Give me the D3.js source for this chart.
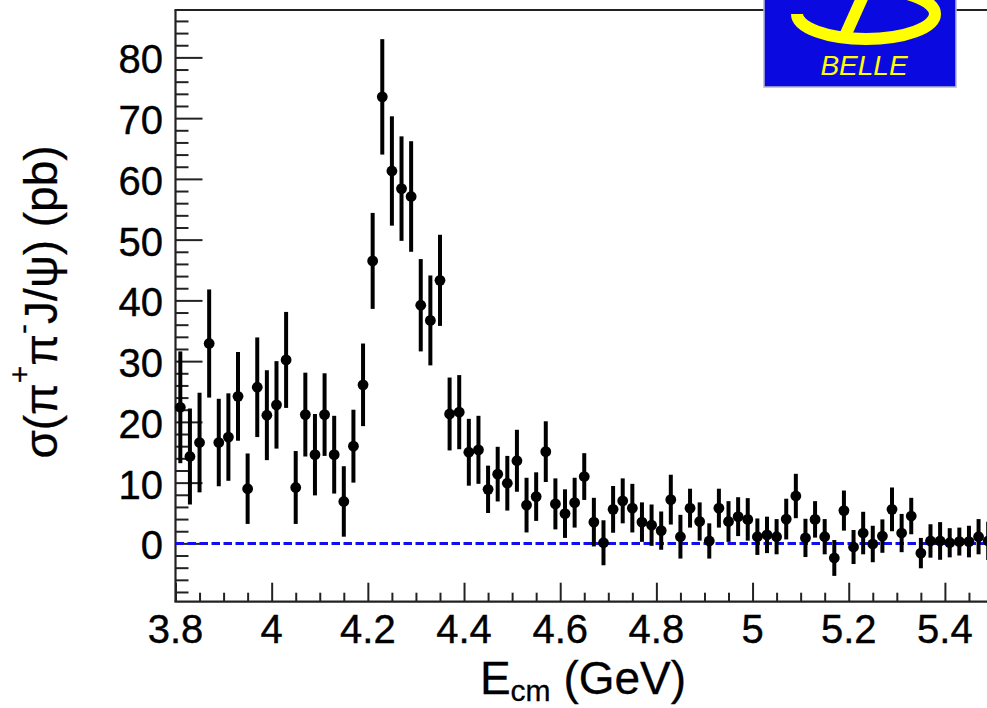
<!DOCTYPE html>
<html>
<head>
<meta charset="utf-8">
<script src="https://cdn.jsdelivr.net/npm/d3@7"></script>
<style>
  html, body { margin: 0; padding: 0; background: #ffffff; overflow: hidden; }
  svg { display: block; }
  text { font-family: "Liberation Sans", Arial, Helvetica, sans-serif; }
</style>
</head>
<body>
<div id="chart"></div>
<script>
// Centre-of-mass energy bins (GeV)
const energy = [
  3.81, 3.83, 3.85, 3.87, 3.89, 3.91, 3.93, 3.95, 3.97, 3.99,
  4.01, 4.03, 4.05, 4.07, 4.09, 4.11, 4.13, 4.15, 4.17, 4.19,
  4.21, 4.23, 4.25, 4.27, 4.29, 4.31, 4.33, 4.35, 4.37, 4.39,
  4.41, 4.43, 4.45, 4.47, 4.49, 4.51, 4.53, 4.55, 4.57, 4.59,
  4.61, 4.63, 4.65, 4.67, 4.69, 4.71, 4.73, 4.75, 4.77, 4.79,
  4.81, 4.83, 4.85, 4.87, 4.89, 4.91, 4.93, 4.95, 4.97, 4.99,
  5.01, 5.03, 5.05, 5.07, 5.09, 5.11, 5.13, 5.15, 5.17, 5.19,
  5.21, 5.23, 5.25, 5.27, 5.29, 5.31, 5.33, 5.35, 5.37, 5.39,
  5.41, 5.43, 5.45, 5.47, 5.49
];

// Measured cross section sigma(pi+ pi- J/psi) in pb
const sigma = [
  22.4, 14.3, 16.6, 32.9, 16.6, 17.5, 24.2, 9.0, 25.7, 21.1,
  22.8, 30.2, 9.2, 21.2, 14.6, 21.2, 14.6, 6.9, 16.0, 26.1,
  46.5, 73.5, 61.3, 58.4, 57.1, 39.2, 36.7, 43.3, 21.3, 21.6,
  15.0, 15.4, 8.9, 11.4, 9.9, 13.6, 6.3, 7.7, 15.1, 6.5,
  4.9, 6.7, 11.0, 3.5, 0.1, 5.6, 7.0, 5.8, 3.5, 3.0,
  2.1, 7.2, 1.1, 5.8, 3.6, 0.4, 5.8, 3.6, 4.4, 3.95,
  1.1, 1.4, 1.1, 4.0, 7.8, 0.9, 3.95, 1.1, -2.4, 5.4,
  -0.6, 1.7, -0.1, 1.2, 5.6, 1.7, 4.5, -1.6, 0.4, 0.4,
  0.1, 0.3, 0.3, 1.1, 0.4
];

// Statistical uncertainty on each point (pb)
const sigmaErr = [
  9.2, 7.9, 8.2, 8.9, 7.2, 7.2, 7.3, 5.8, 8.2, 7.4,
  7.2, 7.9, 6.0, 6.9, 6.7, 6.8, 6.4, 5.8, 6.0, 6.8,
  7.9, 9.5, 9.0, 8.6, 9.1, 7.6, 7.4, 7.5, 6.0, 6.1,
  5.5, 5.6, 3.9, 4.5, 4.5, 5.1, 4.5, 4.0, 5.0, 4.2,
  4.0, 4.1, 3.85, 4.0, 3.7, 3.85, 3.7, 4.0, 3.25, 3.4,
  3.15, 4.1, 3.6, 3.2, 3.15, 2.9, 3.2, 3.35, 3.2, 3.5,
  3.0, 3.0, 2.9, 3.35, 3.65, 3.15, 3.0, 2.9, 2.95, 3.3,
  2.8, 3.5, 3.0, 2.75, 3.6, 3.15, 3.0, 2.5, 2.75, 3.1,
  2.4, 2.3, 2.6, 2.9, 3.15
];

// Axis tick values and labels
const xMajorTicks = [3.8, 4.0, 4.2, 4.4, 4.6, 4.8, 5.0, 5.2, 5.4];
const xTickLabels = ["3.8", "4", "4.2", "4.4", "4.6", "4.8", "5", "5.2", "5.4"];
const yMajorTicks = [0, 10, 20, 30, 40, 50, 60, 70, 80];
const yTickLabels = ["0", "10", "20", "30", "40", "50", "60", "70", "80"];

const W = 987, H = 708;
const frame = { left: 175.5, top: 10, bottom: 601.7, right: 993 };

const svg = d3.select("#chart").append("svg")
  .attr("width", W).attr("height", H);

const x = d3.scaleLinear().domain([3.8, 5.5]).range([frame.left, frame.right]);
const y = d3.scaleLinear().domain([-9.6, 87.8]).range([frame.bottom, frame.top]);

const axisColor = "#222";

// Minor tick positions
const yMinor = d3.range(-8, 87, 2).filter(v => v % 10 !== 0);
const xMinor = d3.range(3.85, 5.5, 0.05).filter(v => Math.abs(v * 5 - Math.round(v * 5)) > 1e-6);

// Y axis: ticks point into the frame
const gy = svg.append("g").attr("transform", `translate(${frame.left},0)`);
gy.append("g").call(d3.axisRight(y).tickValues(yMajorTicks).tickSize(27).tickFormat(""));
gy.append("g").call(d3.axisRight(y).tickValues(yMinor).tickSize(13).tickFormat(""));
gy.selectAll(".domain").remove();
gy.selectAll("line").attr("stroke", axisColor).attr("stroke-width", 2);

// X axis: ticks point up into the frame
const gx = svg.append("g").attr("transform", `translate(0,${frame.bottom})`);
gx.append("g").call(d3.axisTop(x).tickValues(xMajorTicks).tickSize(19).tickFormat(""));
gx.append("g").call(d3.axisTop(x).tickValues(xMinor).tickSize(9).tickFormat(""));
gx.selectAll(".domain").remove();
gx.selectAll("line").attr("stroke", axisColor).attr("stroke-width", 2);

// Frame lines (left, bottom, top)
svg.append("line").attr("x1", frame.left).attr("x2", frame.left)
  .attr("y1", frame.top).attr("y2", frame.bottom)
  .attr("stroke", axisColor).attr("stroke-width", 2.2);
svg.append("line").attr("x1", frame.left - 1).attr("x2", W + 10)
  .attr("y1", frame.bottom).attr("y2", frame.bottom)
  .attr("stroke", axisColor).attr("stroke-width", 2.2);
svg.append("line").attr("x1", frame.left - 1).attr("x2", W + 10)
  .attr("y1", frame.top).attr("y2", frame.top)
  .attr("stroke", axisColor).attr("stroke-width", 2.2);

// Tick labels
svg.append("g").selectAll("text").data(yMajorTicks).join("text")
  .attr("x", 163).attr("y", d => y(d) + 16)
  .attr("text-anchor", "end")
  .attr("font-size", 40)
  .attr("fill", "#000").attr("stroke", "#000").attr("stroke-width", 0.4)
  .text((d, i) => yTickLabels[i]);

svg.append("g").selectAll("text").data(xMajorTicks).join("text")
  .attr("x", d => x(d)).attr("y", 643)
  .attr("text-anchor", "middle")
  .attr("font-size", 40)
  .attr("fill", "#000").attr("stroke", "#000").attr("stroke-width", 0.4)
  .text((d, i) => xTickLabels[i]);

// Axis titles
const xTitle = svg.append("text")
  .attr("x", 583).attr("y", 694)
  .attr("text-anchor", "middle")
  .attr("font-size", 46)
  .attr("fill", "#000").attr("stroke", "#000").attr("stroke-width", 0.3);
xTitle.append("tspan").text("E");
xTitle.append("tspan").attr("font-size", 30).attr("dy", 7).text("cm");
xTitle.append("tspan").attr("dy", -7).text(" (GeV)");

const yTitle = svg.append("text")
  .attr("transform", "translate(57,302) rotate(-90)")
  .attr("text-anchor", "middle")
  .attr("font-size", 46)
  .attr("fill", "#000").attr("stroke", "#000").attr("stroke-width", 0.3);
yTitle.append("tspan").text("σ(π");
yTitle.append("tspan").attr("font-size", 30).attr("dy", -27).text("+");
yTitle.append("tspan").attr("dy", 27).text("π");
yTitle.append("tspan").attr("font-size", 30).attr("dy", -24).text("-");
yTitle.append("tspan").attr("dy", 24).text("J/ψ) (pb)");

// Zero reference line
svg.append("line")
  .attr("x1", frame.left).attr("x2", W + 10)
  .attr("y1", y(0)).attr("y2", y(0))
  .attr("stroke", "#1010ee").attr("stroke-width", 3)
  .attr("stroke-dasharray", "8.5,3.5");

// Data points with error bars
const pts = energy.map((e, i) => ({ e, v: sigma[i], err: sigmaErr[i] }));
const gp = svg.append("g");
gp.selectAll("line.err").data(pts).join("line")
  .attr("class", "err")
  .attr("x1", d => x(d.e)).attr("x2", d => x(d.e))
  .attr("y1", d => y(d.v - d.err)).attr("y2", d => y(d.v + d.err))
  .attr("stroke", "#000").attr("stroke-width", 4);
gp.selectAll("circle").data(pts).join("circle")
  .attr("cx", d => x(d.e)).attr("cy", d => y(d.v))
  .attr("r", 5.4).attr("fill", "#000");

// Experiment logo in the top-right corner
const logo = svg.append("g");
logo.append("rect")
  .attr("x", 764).attr("y", -3).attr("width", 192).attr("height", 90)
  .attr("fill", "#0a0ae0").attr("stroke", "#b8b8c8").attr("stroke-width", 1.5);
// Open ring: starts at the pointed left tip, runs round the bottom and up the right side
logo.append("path")
  .attr("d", "M 797,14 A 69,25 0 1 0 866,-11")
  .attr("fill", "none").attr("stroke", "#ffff00").attr("stroke-width", 12);
logo.append("line")
  .attr("x1", 845).attr("y1", 36).attr("x2", 863).attr("y2", -4)
  .attr("stroke", "#ffff00").attr("stroke-width", 12);
logo.append("text")
  .attr("x", 864).attr("y", 75)
  .attr("text-anchor", "middle")
  .attr("font-size", 28).attr("font-style", "italic")
  .attr("fill", "#ffff00")
  .text("BELLE");
</script>
</body>
</html>
